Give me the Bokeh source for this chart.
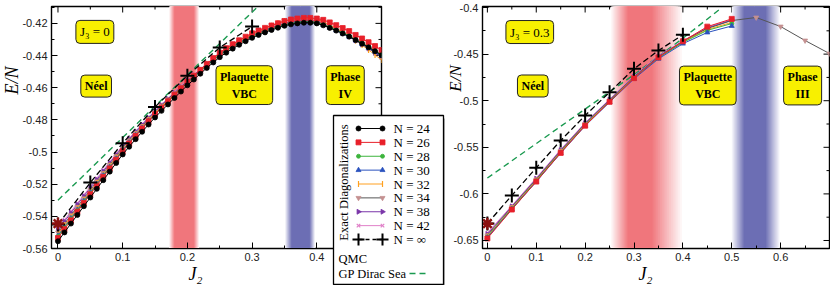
from math import pi
from bokeh.plotting import figure
from bokeh.layouts import row
from bokeh.models import FixedTicker, Range1d, Label
from bokeh.core.properties import value
from bokeh.embed import file_html
from bokeh.resources import INLINE

# ---------------- data: left panel (J3 = 0) ----------------
j2_left = [0.00, 0.01, 0.02, 0.03, 0.04, 0.05, 0.06, 0.07, 0.08, 0.09,
           0.10, 0.11, 0.12, 0.13, 0.14, 0.15, 0.16, 0.17, 0.18, 0.19,
           0.20, 0.21, 0.22, 0.23, 0.24, 0.25, 0.26, 0.27, 0.28, 0.29,
           0.30, 0.31, 0.32, 0.33, 0.34, 0.35, 0.36, 0.37, 0.38, 0.39,
           0.40, 0.41, 0.42, 0.43, 0.44, 0.45, 0.46, 0.47, 0.48, 0.49, 0.50]

e24_left = [-0.5555, -0.5500, -0.5445, -0.5391, -0.5337, -0.5283, -0.5229, -0.5175, -0.5122, -0.5068,
            -0.5015, -0.4967, -0.4920, -0.4874, -0.4829, -0.4785, -0.4744, -0.4704, -0.4664, -0.4624,
            -0.4585, -0.4549, -0.4513, -0.4477, -0.4443, -0.4410, -0.4382, -0.4357, -0.4333, -0.4311,
            -0.4290, -0.4272, -0.4256, -0.4241, -0.4227, -0.4215, -0.4206, -0.4200, -0.4196, -0.4196,
            -0.4200, -0.4212, -0.4228, -0.4245, -0.4263, -0.4282, -0.4304, -0.4326, -0.4349, -0.4373,
            -0.4398]
e26_left = [-0.5535, -0.5480, -0.5425, -0.5371, -0.5317, -0.5263, -0.5209, -0.5155, -0.5102, -0.5048,
            -0.4995, -0.4947, -0.4900, -0.4854, -0.4809, -0.4765, -0.4724, -0.4684, -0.4644, -0.4604,
            -0.4563, -0.4526, -0.4489, -0.4452, -0.4416, -0.4382, -0.4354, -0.4329, -0.4305, -0.4283,
            -0.4262, -0.4244, -0.4228, -0.4213, -0.4199, -0.4185, -0.4176, -0.4170, -0.4166, -0.4166,
            -0.4170, -0.4178, -0.4194, -0.4211, -0.4229, -0.4248, -0.4272, -0.4294, -0.4317, -0.4341,
            -0.4366]
e28_left = [-0.5525, -0.5471, -0.5416, -0.5363, -0.5310, -0.5257, -0.5203, -0.5150, -0.5098, -0.5045,
            -0.4993, -0.4945, -0.4899, -0.4854, -0.4809, -0.4766, -0.4726, -0.4687, -0.4647, -0.4608,
            -0.4570, -0.4535, -0.4499, -0.4464, -0.4431, -0.4398, -0.4371, -0.4347, -0.4324, -0.4302,
            -0.4282, -0.4265, -0.4249, -0.4234, -0.4221, -0.4209, -0.4200, -0.4195, -0.4191, -0.4191,
            -0.4195, -0.4207, -0.4223, -0.4240, -0.4258, -0.4277, -0.4299, -0.4321, -0.4344, -0.4368,
            -0.4393]
e30_left = [-0.5520, -0.5466, -0.5412, -0.5359, -0.5305, -0.5252, -0.5199, -0.5146, -0.5094, -0.5041,
            -0.4988, -0.4941, -0.4895, -0.4850, -0.4806, -0.4763, -0.4723, -0.4683, -0.4644, -0.4605,
            -0.4567, -0.4532, -0.4497, -0.4461, -0.4428, -0.4396, -0.4369, -0.4345, -0.4321, -0.4300,
            -0.4280, -0.4263, -0.4247, -0.4233, -0.4220, -0.4209, -0.4200, -0.4195, -0.4192, -0.4192,
            -0.4197, -0.4210, -0.4227, -0.4244, -0.4263, -0.4283, -0.4306, -0.4329, -0.4352, -0.4377,
            -0.4403]
e32_left = [-0.5510, -0.5456, -0.5402, -0.5349, -0.5297, -0.5244, -0.5191, -0.5138, -0.5086, -0.5033,
            -0.4981, -0.4935, -0.4889, -0.4844, -0.4800, -0.4757, -0.4717, -0.4678, -0.4640, -0.4601,
            -0.4563, -0.4527, -0.4491, -0.4456, -0.4422, -0.4389, -0.4361, -0.4336, -0.4313, -0.4291,
            -0.4270, -0.4250, -0.4232, -0.4215, -0.4199, -0.4185, -0.4177, -0.4172, -0.4168, -0.4169,
            -0.4174, -0.4190, -0.4210, -0.4232, -0.4254, -0.4277, -0.4306, -0.4335, -0.4365, -0.4396,
            -0.4428]
e34_left = [-0.5500, -0.5447, -0.5393, -0.5341, -0.5288, -0.5236, -0.5183, -0.5131, -0.5079, -0.5027,
            -0.4975, -0.4929, -0.4883, -0.4839, -0.4795, -0.4753, -0.4713, -0.4675, -0.4636, -0.4598,
            -0.4560, -0.4525, -0.4490, -0.4455, -0.4422, -0.4390, -0.4363, -0.4339, -0.4316, -0.4295,
            -0.4275, -0.4258, -0.4242, -0.4228, -0.4214, -0.4203, -0.4194, -0.4189, -0.4185, -0.4186,
            -0.4190, -0.4204, -0.4222, -0.4241, -0.4261, -0.4282, -0.4306, -0.4330, -0.4355, -0.4381,
            -0.4408]
e38_left = [-0.5485, -0.5432, -0.5379, -0.5327, -0.5275, -0.5223, -0.5172, -0.5120, -0.5069, -0.5017,
            -0.4966, -0.4920, -0.4875, -0.4831, -0.4788, -0.4746, -0.4708, -0.4670, -0.4632, -0.4594,
            -0.4557, -0.4522, -0.4487, -0.4452, -0.4419, -0.4387, -0.4360, -0.4336, -0.4313, -0.4292,
            -0.4272, -0.4255, -0.4239, -0.4225, -0.4211, -0.4200, -0.4191, -0.4186, -0.4183, -0.4183,
            -0.4188, -0.4202, -0.4221, -0.4240, -0.4261, -0.4282, -0.4306, -0.4331, -0.4356, -0.4383,
            -0.4410]
e42_left = [-0.5475, -0.5422, -0.5370, -0.5318, -0.5267, -0.5215, -0.5164, -0.5112, -0.5062, -0.5010,
            -0.4960, -0.4914, -0.4870, -0.4826, -0.4784, -0.4742, -0.4704, -0.4666, -0.4629, -0.4591,
            -0.4555, -0.4520, -0.4485, -0.4450, -0.4417, -0.4385, -0.4358, -0.4334, -0.4311, -0.4290,
            -0.4270, -0.4253, -0.4237, -0.4223, -0.4209, -0.4198, -0.4190, -0.4184, -0.4181, -0.4181,
            -0.4186, -0.4201, -0.4220, -0.4239, -0.4260, -0.4282, -0.4307, -0.4332, -0.4357, -0.4384,
            -0.4412]

j2_inf_left = [0.00, 0.05, 0.10, 0.15, 0.20, 0.25, 0.30]
einf_left = [-0.5450, -0.5190, -0.4945, -0.4720, -0.4525, -0.4350, -0.4220]
j2_gp_left = [0.00, 0.10, 0.20, 0.30, 0.40]
egp_left = [-0.5300, -0.4910, -0.4520, -0.4130, -0.3740]
j2_qmc_left = [0.0]
eqmc_left = [-0.5445]

# ---------------- data: right panel (J3 = 0.3) ----------------
j2_right = [0.00, 0.05, 0.10, 0.15, 0.20, 0.25, 0.30, 0.35, 0.40, 0.45, 0.50]
j2_right34 = [0.00, 0.05, 0.10, 0.15, 0.20, 0.25, 0.30, 0.35, 0.40, 0.45, 0.50,
              0.55, 0.60, 0.65, 0.70]
e26_right = [-0.6478, -0.6168, -0.5868, -0.5560, -0.5268, -0.5012, -0.4758, -0.4535, -0.4362, -0.4205, -0.4122]
e28_right = [-0.6462, -0.6158, -0.5860, -0.5553, -0.5262, -0.5008, -0.4757, -0.4540, -0.4375, -0.4245, -0.4172]
e30_right = [-0.6470, -0.6165, -0.5870, -0.5562, -0.5270, -0.5016, -0.4765, -0.4550, -0.4388, -0.4268, -0.4198]
e32_right = [-0.6455, -0.6152, -0.5855, -0.5548, -0.5258, -0.5005, -0.4754, -0.4538, -0.4370, -0.4235, -0.4160]
e34_right = [-0.6445, -0.6143, -0.5845, -0.5540, -0.5250, -0.4998, -0.4748, -0.4532, -0.4366, -0.4225, -0.4140,
             -0.4107, -0.4204, -0.4354, -0.4494]
e38_right = [-0.6432, -0.6135, -0.5838, -0.5532, -0.5242, -0.4990, -0.4740, -0.4525, -0.4362, -0.4220, -0.4135]
e42_right = [-0.6418, -0.6126, -0.5829, -0.5524, -0.5236, -0.4985, -0.4736, -0.4520, -0.4358, -0.4212, -0.4128]

j2_inf_right = [0.00, 0.05, 0.10, 0.15, 0.20, 0.25, 0.30, 0.35, 0.40]
einf_right = [-0.6318, -0.6017, -0.5720, -0.5427, -0.5159, -0.4909, -0.4658, -0.4461, -0.4293]
j2_gp_right = [0.00, 0.10, 0.20, 0.30, 0.40, 0.48]
egp_right = [-0.5830, -0.5460, -0.5090, -0.4720, -0.4330, -0.4000]
j2_qmc_right = [0.0]
eqmc_right = [-0.6320]

# phase-transition bands: (fade start, core start, core end, fade end)
bands_left = [((0.172, 0.180, 0.210, 0.218), "red"), ((0.351, 0.361, 0.389, 0.397), "blue")]
bands_right = [((0.253, 0.287, 0.338, 0.398), "red"), ((0.500, 0.525, 0.570, 0.598), "blue")]

# ticks
xt_left = [0.0, 0.1, 0.2, 0.3, 0.4]
xt_left_lab = ["0", "0.1", "0.2", "0.3", "0.4"]
xm_left = [0.05, 0.15, 0.25, 0.35, 0.45]
yt_left = [-0.56, -0.54, -0.52, -0.50, -0.48, -0.46, -0.44, -0.42]
yt_left_lab = ["-0.56", "-0.54", "-0.52", "-0.5", "-0.48", "-0.46", "-0.44", "-0.42"]
ym_left = [-0.55, -0.53, -0.51, -0.49, -0.47, -0.45, -0.43, -0.41]
xt_right = [0.0, 0.1, 0.2, 0.3, 0.4, 0.5, 0.6]
xt_right_lab = ["0", "0.1", "0.2", "0.3", "0.4", "0.5", "0.6"]
xm_right = [0.05, 0.15, 0.25, 0.35, 0.45, 0.55, 0.65]
yt_right = [-0.65, -0.60, -0.55, -0.50, -0.45, -0.40]
yt_right_lab = ["-0.65", "-0.6", "-0.55", "-0.5", "-0.45", "-0.4"]
ym_right = [-0.625, -0.575, -0.525, -0.475, -0.425]

legend_labels = ["N = 24", "N = 26", "N = 28", "N = 30", "N = 32", "N = 34", "N = 38", "N = 42", "N = \u221e"]

SERIF = "Liberation Serif"
SANS = "Liberation Sans"

STY = {
    24: dict(color="#000000", marker="circle", fill="#000000", size=5, angle=0.0),
    26: dict(color="#e8202a", marker="square", fill="#e8202a", size=5, angle=0.0),
    28: dict(color="#3cb43c", marker="circle", fill="#3cb43c", size=4, angle=0.0),
    30: dict(color="#2a52be", marker="triangle", fill="#2a52be", size=5, angle=0.0),
    32: dict(color="#ffa020", marker="dash", fill="#ffa020", size=6, angle=pi / 2),
    34: dict(color="#555555", marker="inverted_triangle", fill="#c49090", size=5, angle=0.0),
    38: dict(color="#7a35a8", marker="triangle", fill="#7a35a8", size=5, angle=-pi / 2),
    42: dict(color="#e080c8", marker="x", fill="#e080c8", size=5, angle=0.0),
}
BAND_RGB = {"red": (240, 118, 124), "blue": (108, 110, 180)}
H = 285


def mix(rgb, a):
    r, g, b = [int(round(255 - (255 - c) * a)) for c in rgb]
    return "#%02x%02x%02x" % (r, g, b)


class Panel:
    def __init__(self, width, x0, fl, fr, xr, yr, xt, xtl, xm, yt, ytl, ym):
        self.x0, self.fl, self.fr, self.ft, self.fb = x0, fl, fr, 6, 248
        self.xr, self.yr = xr, yr
        p = figure(width=width, height=H, x_range=Range1d(*xr), y_range=Range1d(*yr),
                   output_backend="svg", toolbar_location=None,
                   min_border_left=fl - x0, min_border_right=x0 + width - fr,
                   min_border_top=self.ft, min_border_bottom=H - self.fb)
        p.grid.visible = False
        p.outline_line_color = "black"
        p.outline_line_width = 1.4
        p.background_fill_color = "white"
        p.border_fill_color = "white"
        for ax, ticks, labels, minor in ((p.xaxis[0], xt, xtl, xm), (p.yaxis[0], yt, ytl, ym)):
            ax.ticker = FixedTicker(ticks=ticks, minor_ticks=minor)
            ax.major_tick_in = 6
            ax.major_tick_out = 0
            ax.minor_tick_in = 3
            ax.minor_tick_out = 0
            ax.axis_line_color = "black"
            ax.major_label_overrides = {t: s for t, s in zip(ticks, labels)}
            ax.major_label_text_font = SANS
            ax.major_label_text_font_size = "11px"
            ax.major_label_text_color = "#222222"
            ax.major_label_standoff = 4
        self.p = p
        # mirrored inward ticks on top and right edges
        dxp = (xr[1] - xr[0]) / (fr - fl)
        dyp = (yr[1] - yr[0]) / (self.fb - self.ft)
        xs0, ys0, xs1, ys1 = [], [], [], []
        for ticks, ln in ((xt, 6), (xm, 3)):
            for t in ticks:
                xs0.append(t); xs1.append(t); ys0.append(yr[1]); ys1.append(yr[1] - ln * dyp)
        for ticks, ln in ((yt, 6), (ym, 3)):
            for t in ticks:
                ys0.append(t); ys1.append(t); xs0.append(xr[1]); xs1.append(xr[1] - ln * dxp)
        p.segment(xs0, ys0, xs1, ys1, line_color="black", line_width=1)

    def X(self, px):
        return self.xr[0] + (px - self.fl) / (self.fr - self.fl) * (self.xr[1] - self.xr[0])

    def Y(self, py):
        return self.yr[1] - (py - self.ft) / (self.fb - self.ft) * (self.yr[1] - self.yr[0])

    def text(self, px, py, txt, size="13px", style="normal", angle=0.0, align="left"):
        self.p.text(x=[self.X(px)], y=[self.Y(py)], text=[txt], angle=angle,
                    text_align=align, text_baseline="middle", text_font=value(SERIF),
                    text_font_size=value(size), text_font_style=value(style),
                    text_color="black", level="overlay")


def add_band(p, edges, name, n=16):
    x0, x1, x2, x3 = edges
    rgb = BAND_RGB[name]
    mid = 0.5 * (x1 + x2)
    L, R, C = [], [], []
    for k in range(n):
        a = (k + 1) / (n + 1)
        L.append(x0 + (x1 - x0) * k / n); R.append(mid); C.append(mix(rgb, a))
    for k in range(n):
        a = (k + 1) / (n + 1)
        L.append(mid); R.append(x3 - (x3 - x2) * k / n); C.append(mix(rgb, a))
    L.append(x1); R.append(x2); C.append(mix(rgb, 1.0))
    p.quad(left=L, right=R, bottom=-1.0, top=0.0, fill_color=C, line_color=None)


def add_box(p, x, y, text, size="12px", style="bold"):
    for off, pad, alpha in [(7, 8, 0.06), (5, 6, 0.10), (3, 4, 0.18)]:
        p.add_layout(Label(x=x, y=y, text=text, x_offset=off, y_offset=-off,
                           text_align="center", text_baseline="middle",
                           text_font=SERIF, text_font_size=size, text_font_style=style,
                           text_alpha=0.0, background_fill_color="black",
                           background_fill_alpha=alpha, padding=pad, border_radius=6))
    p.add_layout(Label(x=x, y=y, text=text, text_align="center", text_baseline="middle",
                       text_font=SERIF, text_font_size=size, text_font_style=style,
                       text_color="black", background_fill_color="#f8f000",
                       border_line_color="#222222", border_line_width=1,
                       padding=4, border_radius=4))


def ed_series(p, x, y, n, level="glyph"):
    s = STY[n]
    thin = s["marker"] in ("dash", "x")
    p.line(x, y, line_color=s["color"], line_width=1.0, level=level)
    p.scatter(x, y, marker=s["marker"], size=s["size"], angle=s["angle"],
              fill_color=s["fill"], line_color=s["color"] if thin else s["fill"],
              line_width=1.2 if thin else 0.8, level=level)


# ================= left panel =================
A = Panel(445, 0, 51, 381, (-0.01, 0.5), (-0.5600, -0.4095),
          xt_left, xt_left_lab, xm_left, yt_left, yt_left_lab, ym_left)
p1 = A.p
for edges, name in bands_left:
    add_band(p1, edges, name)
p1.line(j2_gp_left, egp_left, line_color="#1a9a50", line_width=1.4, line_dash="6 4")
for n, arr in [(42, e42_left), (38, e38_left), (34, e34_left), (32, e32_left),
               (30, e30_left), (28, e28_left), (26, e26_left), (24, e24_left)]:
    ed_series(p1, j2_left, arr, n)
p1.line(j2_inf_left, einf_left, line_color="black", line_width=1.3, line_dash="6 3")
p1.scatter(j2_inf_left, einf_left, marker="cross", size=14, line_color="black", line_width=2)
p1.scatter(j2_qmc_left, eqmc_left, marker="asterisk", size=12, line_color="#8b1010", line_width=2.5)

add_box(p1, 0.057, -0.4253, "J\u2083 = 0", size="13px", style="normal")
add_box(p1, 0.059, -0.4590, "N\u00e9el")
add_box(p1, 0.288, -0.4584, "Plaquette\nVBC")
add_box(p1, 0.444, -0.4584, "Phase\nIV")

A.text(11, 80, "E/N", size="18px", style="italic", angle=pi / 2, align="center")
A.text(195, 273, "J\u2082", size="18px", style="italic", align="center")

# ---- legend, drawn as overlay glyphs so it may extend outside the frame ----
p1.quad(left=[A.X(336)], right=[A.X(446)], top=[A.Y(118)], bottom=[A.Y(287)],
        fill_color="black", fill_alpha=0.28, line_color=None, level="overlay")
p1.quad(left=[A.X(333)], right=[A.X(443)], top=[A.Y(115)], bottom=[A.Y(284)],
        fill_color="white", line_color="black", line_width=1.3, level="overlay")
rows_y = [128 + 13.875 * k for k in range(9)]
for k, n in enumerate([24, 26, 28, 30, 32, 34, 38, 42]):
    yy = A.Y(rows_y[k])
    ed_series(p1, [A.X(358), A.X(382)], [yy, yy], n, level="overlay")
yy = A.Y(rows_y[8])
p1.line([A.X(358), A.X(382)], [yy, yy], line_color="black", line_width=1.3, line_dash="4 3", level="overlay")
p1.scatter([A.X(358), A.X(382)], [yy, yy], marker="cross", size=12, line_color="black",
           line_width=2, level="overlay")
for k, lab in enumerate(legend_labels):
    A.text(393, rows_y[k], lab, size="13px")
A.text(343, 182, "Exact Diagonalizations", size="12.5px", angle=pi / 2, align="center")
A.text(338, 258, "QMC", size="12.5px")
A.text(338, 273, "GP Dirac Sea", size="12.5px")
p1.scatter([A.X(418)], [A.Y(258)], marker="asterisk", size=12, line_color="#8b1010",
           line_width=2.5, level="overlay")
p1.line([A.X(409), A.X(429)], [A.Y(273), A.Y(273)], line_color="#1a9a50", line_width=1.4,
        line_dash="6 4", level="overlay")

# ================= right panel =================
B = Panel(385, 445, 482, 829, (-0.01, 0.7), (-0.6586, -0.3989),
          xt_right, xt_right_lab, xm_right, yt_right, yt_right_lab, ym_right)
p2 = B.p
for edges, name in bands_right:
    add_band(p2, edges, name)
p2.line(j2_gp_right, egp_right, line_color="#1a9a50", line_width=1.4, line_dash="6 4")
ed_series(p2, j2_right, e42_right, 42)
ed_series(p2, j2_right, e38_right, 38)
ed_series(p2, j2_right34, e34_right, 34)
ed_series(p2, j2_right, e32_right, 32)
ed_series(p2, j2_right, e28_right, 28)
ed_series(p2, j2_right, e30_right, 30)
ed_series(p2, j2_right, e26_right, 26)
p2.line(j2_inf_right, einf_right, line_color="black", line_width=1.3, line_dash="6 3")
p2.scatter(j2_inf_right, einf_right, marker="cross", size=14, line_color="black", line_width=2)
p2.scatter(j2_qmc_right, eqmc_right, marker="asterisk", size=12, line_color="#8b1010", line_width=2.5)

add_box(p2, 0.0867, -0.4263, "J\u2083 = 0.3", size="13px", style="normal")
add_box(p2, 0.0929, -0.4842, "N\u00e9el")
add_box(p2, 0.451, -0.4837, "Plaquette\nVBC")
add_box(p2, 0.645, -0.4837, "Phase\nIII")

B.text(455, 78, "E/N", size="17px", style="italic", angle=pi / 2, align="center")
B.text(645, 273, "J\u2082", size="18px", style="italic", align="center")

layout = row(p1, p2)
open("out.html", "w").write(file_html(layout, INLINE))
